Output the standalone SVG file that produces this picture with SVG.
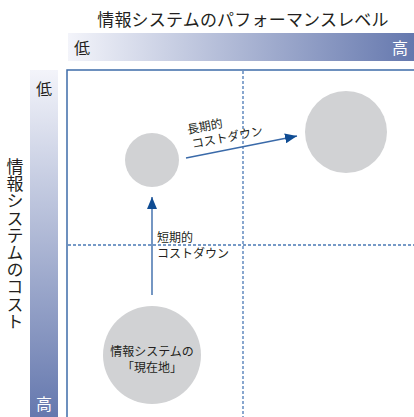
<svg xmlns="http://www.w3.org/2000/svg" width="414" height="417" viewBox="0 0 414 417">
<defs>
<linearGradient id="gh" x1="0" y1="0" x2="1" y2="0">
<stop offset="0" stop-color="#f3f4fa"/>
<stop offset="1" stop-color="#6578ae"/>
</linearGradient>
<linearGradient id="gv" x1="0" y1="0" x2="0" y2="1">
<stop offset="0" stop-color="#f3f4fa"/>
<stop offset="1" stop-color="#6578ae"/>
</linearGradient>
<marker id="ah" viewBox="0 0 12 10" refX="12" refY="5" markerWidth="12" markerHeight="10" markerUnits="userSpaceOnUse" orient="auto">
<path d="M0,0 L12,5 L0,10 Z" fill="#0f4c93"/>
</marker>
<style>
text{font-family:"Noto Sans CJK JP","Noto Sans CJK SC",sans-serif;fill:#231f20}
.t{font-size:17px}
.v{font-size:17px;writing-mode:vertical-rl;letter-spacing:0.2px}
.lab{font-size:12px}
.lv{font-size:16px}
.w{fill:#ffffff}
.dash{stroke:#4a79b5;stroke-width:1.3;stroke-dasharray:3 2;fill:none}
.frame{stroke:#3e6ca9;stroke-width:1.5;fill:none}
.conn{stroke:#3a6aa9;stroke-width:1.4;fill:none}
.node{fill:#d1d2d4}
</style>
</defs>
<g id="title">
<text class="t" x="243" y="26" text-anchor="middle" letter-spacing="0.2">情報システムのパフォーマンスレベル</text>
</g>
<g id="axis-x">
<rect x="68" y="33" width="346" height="28" fill="url(#gh)"/>
<text class="lv" x="74" y="54">低</text>
<text class="lv w" x="392" y="54">高</text>
</g>
<g id="axis-y">
<rect x="30" y="70" width="28" height="347" fill="url(#gv)"/>
<text class="lv" x="36" y="95">低</text>
<text class="lv w" x="36" y="410">高</text>
<text class="v" x="15" y="158">情報システムのコスト</text>
</g>
<g id="grid">
<path class="frame" d="M67,417 V70 H414"/>
<path class="dash" d="M243,71 V417"/>
<path class="dash" d="M68,245 H414"/>
</g>
<g id="node-current">
<circle class="node" cx="152" cy="355" r="49"/>
<text class="lab" text-anchor="middle"><tspan x="152" y="355.5">情報システムの</tspan><tspan x="152" y="371.5">「現在地」</tspan></text>
</g>
<g id="node-short">
<circle class="node" cx="152" cy="160" r="27"/>
</g>
<g id="node-long">
<circle class="node" cx="346" cy="132" r="41"/>
</g>
<g id="connectors">
<path class="conn" d="M152,295 V197" marker-end="url(#ah)"/>
<path class="conn" d="M186,158 L297,136" marker-end="url(#ah)"/>
</g>
<g id="labels">
<text class="lab"><tspan x="157" y="242">短期的</tspan><tspan x="157" y="258">コストダウン</tspan></text>
<text class="lab" transform="rotate(-11 188 134)"><tspan x="188" y="134">長期的</tspan><tspan x="190" y="149">コストダウン</tspan></text>
</g>
</svg>
